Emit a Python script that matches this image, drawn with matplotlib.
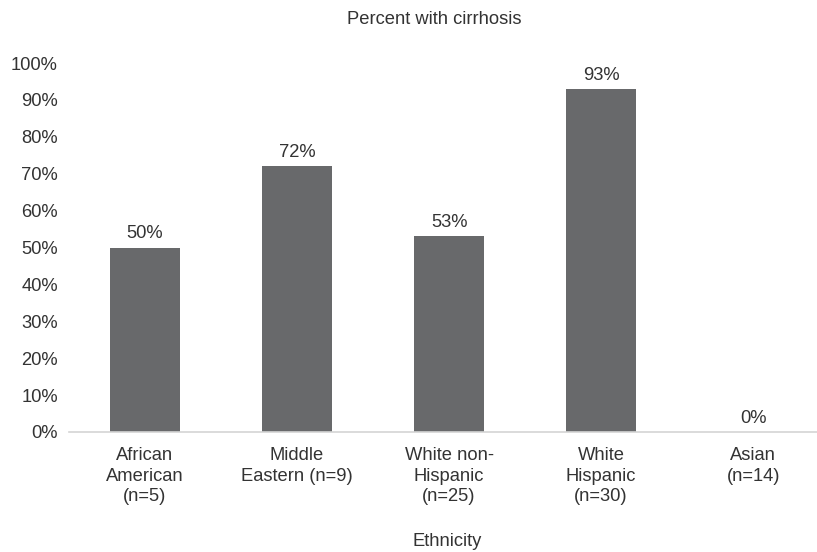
import matplotlib.pyplot as plt
import numpy as np

plt.rcParams['font.family'] = ['Liberation Sans', 'DejaVu Sans']

categories = ["African\nAmerican\n(n=5)", "Middle\nEastern (n=9)", "White non-\nHispanic\n(n=25)",
              "White\nHispanic\n(n=30)", "Asian\n(n=14)"]
values = [50, 72, 53, 93, 0]
value_labels = ["50%", "72%", "53%", "93%", "0%"]
yticks = [0, 10, 20, 30, 40, 50, 60, 70, 80, 90, 100]

text_color = '#333333'
bar_color = '#68696b'
fs = 13.2

fig = plt.figure(figsize=(8.17, 5.52), dpi=100)
ax = fig.add_axes([69 / 817, 1 - 432 / 552, 1 - 69 / 817, (432 - 63) / 552])

x = np.arange(len(categories))
ax.bar(x, values, width=0.46, color=bar_color)

# etiquetas de valor
for xi, v, lab in zip(x, values, value_labels):
    ax.text(xi, v + 1.4, lab, ha='center', va='bottom', fontsize=fs, color=text_color)

ax.set_xlim(-0.5, 4.42)
ax.set_ylim(0, 100)
ax.set_yticks(yticks)
ax.set_yticklabels([f"{t}%" for t in yticks], fontsize=fs, color=text_color)
ax.set_xticks(x)
ax.set_xticklabels(categories, fontsize=fs, color=text_color, linespacing=1.26, va='top')
ax.tick_params(axis='both', length=0)
ax.tick_params(axis='x', pad=11)
ax.tick_params(axis='y', pad=8)

for s in ['top', 'right', 'left']:
    ax.spines[s].set_visible(False)
ax.spines['bottom'].set_color('#d4d4d4')
ax.spines['bottom'].set_linewidth(1.2)

fig.text(434 / 817, 1 - 20 / 552, "Percent with cirrhosis", ha='center', va='center',
         fontsize=fs, color=text_color)
fig.text(447 / 817, 1 - 541 / 552, "Ethnicity", ha='center', va='center',
         fontsize=fs, color=text_color)

fig.savefig("out.png", dpi=100)
